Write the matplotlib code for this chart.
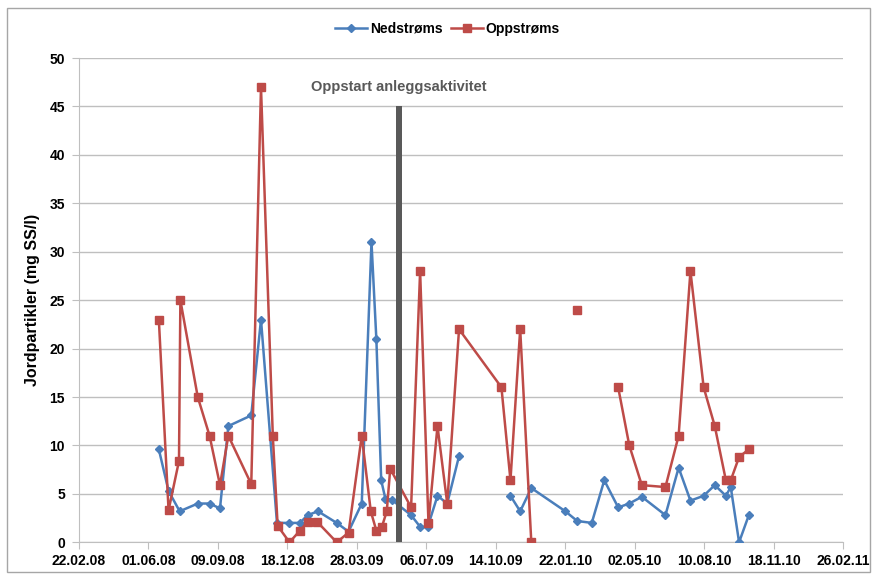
import matplotlib
matplotlib.use("Agg")
import matplotlib.pyplot as plt
import matplotlib.dates as mdates
from matplotlib.patches import Rectangle
import numpy as np
import pandas as pd

# ---- data ----
ned_dates = ["2008-06-16", "2008-06-30", "2008-07-16", "2008-08-11", "2008-08-28",
             "2008-09-12", "2008-09-24", "2008-10-27", "2008-11-10", "2008-12-03",
             "2008-12-21", "2009-01-05", "2009-01-16", "2009-01-31", "2009-02-27",
             "2009-03-16", "2009-04-04", "2009-04-18", "2009-04-25", "2009-05-02",
             "2009-05-08", "2009-05-17", "2009-06-14", "2009-06-27", "2009-07-08",
             "2009-07-22", "2009-08-05", "2009-08-22", "2009-10-01", "2009-11-04",
             "2009-11-18", "2009-12-04", "2010-01-22", "2010-02-08", "2010-03-01",
             "2010-03-19", "2010-04-08", "2010-04-24", "2010-05-12", "2010-06-15",
             "2010-07-04", "2010-07-21", "2010-08-09", "2010-08-25", "2010-09-10",
             "2010-09-17", "2010-09-29", "2010-10-13"]
ned_values = [9.6, 5.3, 3.2, 4.0, 4.0,
              3.5, 12.0, 13.1, 23.0, 2.0,
              2.0, 2.0, 2.8, 3.2, 2.0,
              1.1, 4.0, 31.0, 21.0, 6.4,
              4.5, 4.4, 2.8, 1.6, 1.6,
              4.8, 4.0, 8.9, None, 4.8,
              3.2, 5.6, 3.2, 2.2, 2.0,
              6.4, 3.6, 4.0, 4.7, 2.8,
              7.7, 4.3, 4.8, 5.9, 4.8,
              5.7, 0.0, 2.8]

opp_dates = ["2008-06-16", "2008-06-30", "2008-07-15", "2008-07-17", "2008-08-11",
             "2008-08-28", "2008-09-12", "2008-09-24", "2008-10-27", "2008-11-10",
             "2008-11-27", "2008-12-04", "2008-12-21", "2009-01-05", "2009-01-16",
             "2009-01-30", "2009-02-27", "2009-03-16", "2009-04-04", "2009-04-17",
             "2009-04-25", "2009-05-03", "2009-05-10", "2009-05-15", "2009-06-14",
             "2009-06-27", "2009-07-09", "2009-07-22", "2009-08-05", "2009-08-22",
             "2009-10-22", "2009-11-04", "2009-11-18", "2009-12-04", "2010-01-10",
             "2010-02-08", "2010-03-10", "2010-04-08", "2010-04-24", "2010-05-12",
             "2010-06-15", "2010-07-04", "2010-07-21", "2010-08-09", "2010-08-25",
             "2010-09-10", "2010-09-17", "2010-09-29", "2010-10-13"]
opp_values = [23.0, 3.3, 8.4, 25.0, 15.0,
              11.0, 5.9, 11.0, 6.0, 47.0,
              11.0, 1.7, 0.0, 1.2, 2.1,
              2.1, 0.0, 1.0, 11.0, 3.2,
              1.2, 1.6, 3.2, 7.6, 3.6,
              28.0, 2.0, 12.0, 4.0, 22.0,
              16.0, 6.4, 22.0, 0.0, None,
              24.0, None, 16.0, 10.0, 5.9,
              5.7, 11.0, 28.0, 16.0, 12.0,
              6.4, 6.4, 8.8, 9.6]

start_date = "2009-05-27"
start_height = 45
start_label = "Oppstart anleggsaktivitet"
series_names = ["Nedstrøms", "Oppstrøms"]
y_label = "Jordpartikler (mg SS/l)"
tick_dates = pd.date_range("2008-02-22", periods=12, freq="100D")

# ---- plot ----
font = ["Liberation Sans", "DejaVu Sans"]
plt.rcParams["font.family"] = font

fig = plt.figure(figsize=(8.74, 5.75), dpi=100)
ax = fig.add_axes([0.0903, 0.0569, 0.8746, 0.8422])

blue = "#4A7EBB"
red = "#BE4B48"

nd = pd.to_datetime(ned_dates)
nv = np.array([np.nan if v is None else v for v in ned_values], dtype=float)
od = pd.to_datetime(opp_dates)
ov = np.array([np.nan if v is None else v for v in opp_values], dtype=float)

ax.bar(pd.to_datetime([start_date]), [start_height], width=8.6, color="#595959", zorder=4)
ax.plot(nd, nv, color=blue, lw=1.8, marker="D", ms=4.5, mfc=blue, mec=blue,
        label=series_names[0], zorder=3)
ax.plot(od, ov, color=red, lw=1.8, marker="s", ms=6, mfc=red, mec=red,
        label=series_names[1], zorder=3)

ax.text(pd.to_datetime(start_date), 46.3, start_label, ha="center", va="bottom",
        fontsize=10.5, fontweight="bold", color="#595959")

ax.set_xlim(tick_dates[0], tick_dates[-1])
ax.set_ylim(0, 50)
ax.set_yticks(np.arange(0, 51, 5))
ax.set_xticks(tick_dates)
ax.xaxis.set_major_formatter(mdates.DateFormatter("%d.%m.%y"))

ax.grid(axis="y", color="#bfbfbf", lw=1.0)
ax.set_axisbelow(True)
for s in ["top", "right"]:
    ax.spines[s].set_visible(False)
for s in ["left", "bottom"]:
    ax.spines[s].set_color("#bfbfbf")
ax.tick_params(axis="both", colors="#bfbfbf", length=5, labelcolor="black",
               labelsize=10)
ax.tick_params(axis="y", pad=5)
for lbl in ax.get_xticklabels() + ax.get_yticklabels():
    lbl.set_fontweight("bold")

ax.set_ylabel(y_label, fontsize=11.5, fontweight="bold", labelpad=7)

leg = fig.legend(loc="center", bbox_to_anchor=(0.512, 0.950), ncol=2, frameon=False,
                 prop={"family": font, "weight": "bold", "size": 10},
                 handlelength=2.3, columnspacing=0.6, handletextpad=0.2)

fig.patches.append(Rectangle((0.008, 0.006), 0.987, 0.980, transform=fig.transFigure,
                             fill=False, edgecolor="#a6a6a6", lw=1.0))

fig.savefig("out.png", dpi=100)
